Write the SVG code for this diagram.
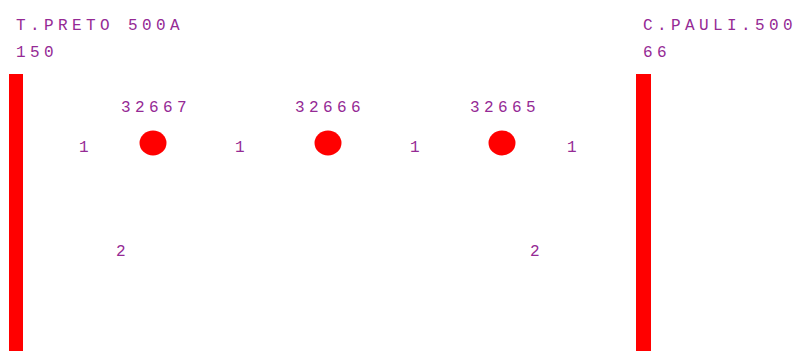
<svg xmlns="http://www.w3.org/2000/svg" width="800" height="351" viewBox="0 0 800 351">
<style>
text{font-family:"Liberation Mono","Courier New",monospace;font-size:16px;fill:#952a95;letter-spacing:4.4px}
.bar{fill:#ff0000}
.node{fill:#ff0000}
</style>
<rect width="800" height="351" fill="#fff"/>
<g id="busT">
<rect class="bar" x="9" y="74" width="14" height="277"/>
<text x="16" y="30">T.PRETO 500A</text>
<text x="16" y="57">150</text>
</g>
<g id="busC">
<rect class="bar" x="636" y="74" width="15" height="277"/>
<text x="643" y="30">C.PAULI.500</text>
<text x="643" y="57">66</text>
</g>
<g id="n32667">
<ellipse class="node" cx="153" cy="143" rx="13.5" ry="12.5"/>
<text x="121" y="112">32667</text>
</g>
<g id="n32666">
<ellipse class="node" cx="328" cy="143" rx="13.5" ry="12.5"/>
<text x="295" y="112">32666</text>
</g>
<g id="n32665">
<ellipse class="node" cx="502" cy="143" rx="13.5" ry="12.5"/>
<text x="470" y="112">32665</text>
</g>
<g id="connectors">
<text x="79" y="152">1</text>
<text x="235" y="152">1</text>
<text x="410" y="152">1</text>
<text x="567" y="152">1</text>
<text x="116" y="256">2</text>
<text x="530" y="256">2</text>
</g>
</svg>
